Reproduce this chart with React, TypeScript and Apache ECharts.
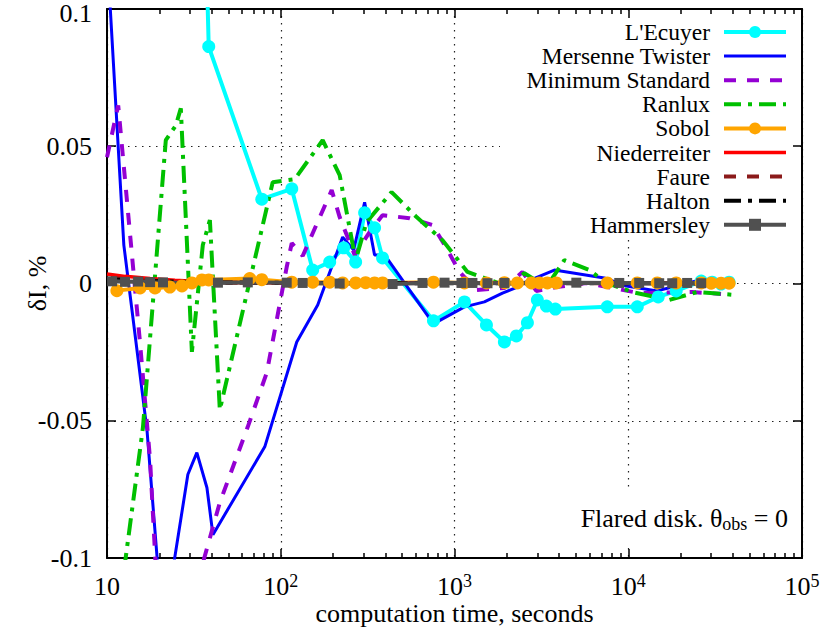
import React, { useEffect, useRef } from 'react';
import * as echarts from 'echarts';

const FONT = '"Liberation Serif", "Times New Roman", serif';

const seriesNames = ["L'Ecuyer", 'Mersenne Twister', 'Minimum Standard', 'Ranlux', 'Sobol', 'Niederreiter', 'Faure', 'Halton', 'Hammersley'];

const xTickValues = [10, 100, 1000, 10000, 100000];
const xMinorTickValues = [20, 30, 40, 50, 60, 70, 80, 90, 200, 300, 400, 500, 600, 700, 800, 900, 2000, 3000, 4000, 5000, 6000, 7000, 8000, 9000, 20000, 30000, 40000, 50000, 60000, 70000, 80000, 90000];
const yTickValues = [-0.1, -0.05, 0, 0.05, 0.1];

const lecuyerT = [30.8, 35.2, 38.5, 77.8, 115.7, 152.7, 191.3, 230.2, 269.8, 303.9, 346.7, 385.5, 757, 1141, 1527, 1937, 2270, 2628, 2999, 3379, 3805, 7573, 11270, 14870, 18880, 26300, 30400, 34200, 38050];
const lecuyerV = [0.25, 0.18, 0.0863, 0.0307, 0.0345, 0.0049, 0.0078, 0.013, 0.0078, 0.0258, 0.0203, 0.0093, -0.0136, -0.0067, -0.0151, -0.0213, -0.0191, -0.0143, -0.006, -0.0082, -0.0093, -0.0085, -0.0085, -0.0049, -0.0027, 0.0009, 0.0005, -0.0002, 0.0005];

const mersenneT = [10, 12.5, 17.0, 21.0, 29.2, 32.9, 37.6, 40.7, 80.9, 123.6, 163.2, 227.2, 262.8, 303.9, 346.7, 396, 757, 1141, 1486, 1888, 2301, 2559, 3758, 7278, 9743, 14690, 17910, 24600, 38050];
const mersenneV = [0.121, 0.014, -0.0536, -0.127, -0.0696, -0.0616, -0.0744, -0.0915, -0.0595, -0.0213, -0.0078, 0.0169, 0.0122, 0.0296, 0.0104, 0.0104, -0.0147, -0.0085, -0.0067, -0.0035, -0.0013, 0.0005, 0.0049, 0.002, -0.0009, -0.0027, -0.0013, 0.0009, 0.0002];

const minStdT = [10, 11.6, 15.5, 17.7, 21.0, 44.6, 64.6, 83.1, 108.2, 115.7, 133.7, 196.4, 218.3, 266.3, 324.6, 385.5, 551, 747, 899, 1069, 1337, 1937, 2459, 2958, 3855, 5741, 11560, 23330, 34200];
const minStdV = [0.046, 0.0649, -0.0218, -0.0642, -0.1536, -0.0798, -0.0522, -0.0325, 0.006, 0.0147, 0.010, 0.034, 0.0242, 0.0104, 0.0187, 0.0249, 0.0238, 0.0213, 0.0129, 0.0042, -0.0024, -0.0016, 0.0042, -0.0027, -0.0013, 0.0002, -0.0035, -0.0031, -0.0038];

const ranluxT = [11.1, 16.1, 21.8, 24.9, 26.6, 30.8, 35.6, 39.1, 44.6, 89.9, 120.3, 174.3, 218.3, 269.8, 312, 434.5, 605, 853, 1188, 2070, 2525, 3379, 4287, 5970, 7480, 10540, 17220, 24940, 41780];
const ranluxV = [-0.1296, -0.0525, 0.0522, 0.0576, 0.0638, -0.0249, 0.014, 0.0231, -0.046, 0.0369, 0.038, 0.0522, 0.0395, 0.0085, 0.0224, 0.0333, 0.0242, 0.0158, 0.0042, -0.0013, 0.0038, -0.0013, 0.0085, 0.0049, 0.0002, -0.0031, -0.006, -0.0031, -0.0042];

const sobolT = [11.4, 15.5, 18.9, 23.0, 27.0, 30.8, 35.2, 38.5, 66.3, 77.8, 115.7, 152.7, 191.3, 227.2, 269.8, 307.9, 346.7, 385.5, 757, 1141, 1527, 1937, 2301, 2770, 3081, 3421, 3855, 7573, 11270, 14690, 18880, 26300, 29990, 34200, 38050];
const sobolV = [-0.0026, -0.0016, -0.0016, -0.0013, -0.0009, 0.0002, 0.0013, 0.0013, 0.0018, 0.0014, 0.0005, 0.0005, 0.0005, 0.0002, 0.0002, 0.0003, 0.0002, 0.0002, 0.0005, 0.0002, 0.0002, 0.0003, 0.0002, 0.0002, 0.0002, 0.0002, 0.0002, 0.0002, 0.0002, 0.0002, 0.0002, 0.0002, 0.0001, 0.0001, 0.0001];

const niederT = [10, 12.7, 17.7, 24.6, 40.5, 68, 130, 250, 500, 1000, 2000, 4000, 8000, 16000, 30000, 38000];
const niederV = [0.0035, 0.0026, 0.0018, 0.0012, 0.0005, 0.0003, 0.0002, 0.0001, 0.0002, 0.0001, 0.0001, 0.0002, 0.0001, 0.0001, 0.0001, 0.0001];

const faureT = [10.5, 15, 25, 50, 100, 200, 400, 800, 1600, 3200, 6400, 12800, 25600, 38000];
const faureV = [0.002, 0.0012, 0.0006, 0.0003, 0.0002, 0.0001, 0.0002, 0.0001, 0.0001, 0.0, 0.0001, 0.0001, 0.0, 0.0001];

const haltonT = [10.5, 20, 50, 200, 800, 3000, 10000, 30000, 38000];
const haltonV = [0.0015, 0.0008, 0.0004, 0.0002, 0.0001, 0.0001, 0.0001, 0.0, 0.0];

const hammersleyT = [10.7, 12.7, 15.1, 17.7, 21.0, 43.5, 64.6, 108.2, 133.7, 218.3, 440.4, 654.6, 876.5, 1097, 1268, 1548, 1937, 5026, 8875, 11560, 15070, 17910, 21830, 26300];
const hammersleyV = [0.0008, 0.0006, 0.0007, 0.0005, 0.0004, 0.0003, 0.0004, 0.0003, 0.0002, 0.0, -0.0002, 0.0002, 0.0003, 0.0002, 0.0002, 0.0001, 0.0002, 0.0003, 0.0002, 0.0002, 0.0001, 0.0001, 0.0002, 0.0001];

const pairs = (t: number[], v: number[]) => t.map((x, i) => [x, v[i]]);

const seriesDefs = [
  { name: seriesNames[0], t: lecuyerT, v: lecuyerV, color: '#00ffff', width: 4, type: 'solid', symbol: 'circle', size: 13 },
  { name: seriesNames[1], t: mersenneT, v: mersenneV, color: '#0000ff', width: 3, type: 'solid', symbol: 'none', size: 0 },
  { name: seriesNames[2], t: minStdT, v: minStdV, color: '#9400d3', width: 4, type: [12, 11], symbol: 'none', size: 0 },
  { name: seriesNames[3], t: ranluxT, v: ranluxV, color: '#00c000', width: 4, type: [17, 7, 4, 7], symbol: 'none', size: 0 },
  { name: seriesNames[4], t: sobolT, v: sobolV, color: '#ffa500', width: 4, type: 'solid', symbol: 'circle', size: 13 },
  { name: seriesNames[5], t: niederT, v: niederV, color: '#ff0000', width: 3.5, type: 'solid', symbol: 'none', size: 0 },
  { name: seriesNames[6], t: faureT, v: faureV, color: '#8b1a1a', width: 4, type: [12, 11], symbol: 'none', size: 0 },
  { name: seriesNames[7], t: haltonT, v: haltonV, color: '#000000', width: 4, type: [17, 7, 4, 7], symbol: 'none', size: 0 },
  { name: seriesNames[8], t: hammersleyT, v: hammersleyV, color: '#505050', width: 4, type: 'solid', symbol: 'rect', size: 10 },
];

const tickLine = { color: '#000', width: 1.5 };
const dotted = { color: '#222', width: 1.2, type: [1.5, 5.5] };
const FS = 26;

const xFormatter = (v: number) => {
  const e = Math.round(Math.log10(v));
  return e === 1 ? '{b|10}' : `{b|10}{s|${e}}`;
};

const yFormatter = (v: number) => {
  const s = String(+v.toFixed(2));
  return v >= yTickValues[yTickValues.length - 1] - 1e-9 ? `{t|${s}}` : s;
};

export default function App() {
  const ref = useRef<HTMLDivElement>(null);
  useEffect(() => {
    if (!ref.current) return;
    const chart = echarts.init(ref.current, undefined, { renderer: 'svg' });
    const logMin = Math.log10(xTickValues[0]);
    const logMax = Math.log10(xTickValues[xTickValues.length - 1]);
    const baseX = { type: 'log', logBase: 10, min: xTickValues[0], max: xTickValues[xTickValues.length - 1], gridIndex: 0 };
    const tickX = { type: 'value', min: logMin, max: logMax, interval: 1, gridIndex: 0 };
    const minorLogs = xMinorTickValues.map((v) => Math.log10(v));
    const majorLogs = xTickValues.map((v) => Math.log10(v));
    const baseY = { type: 'value', min: yTickValues[0], max: yTickValues[yTickValues.length - 1], interval: 0.05, gridIndex: 0 };
    const option: any = {
      animation: false,
      backgroundColor: '#fff',
      grid: { left: 107, right: 28, top: 9, bottom: 81, containLabel: false, outerBoundsMode: 'none' },
      xAxis: [
        {
          ...baseX, position: 'bottom', z: 3,
          axisLine: { show: true, onZero: false, lineStyle: { color: '#000', width: 2 } },
          axisTick: { show: false },
          axisLabel: {
            show: true, margin: 14, formatter: xFormatter,
            rich: {
              b: { fontFamily: FONT, fontSize: FS, color: '#000', lineHeight: 28 },
              s: { fontFamily: FONT, fontSize: 18, color: '#000', lineHeight: 18, verticalAlign: 'top' },
            },
          },
          splitLine: { show: false },
          name: 'computation time, seconds', nameLocation: 'middle', nameGap: 42, nameMoveOverlap: false,
          nameTextStyle: { fontFamily: FONT, fontSize: FS, color: '#000' },
        },
        {
          ...tickX, position: 'bottom', z: 3,
          axisLine: { show: false, onZero: false },
          axisTick: { show: true, inside: true, length: 9, lineStyle: tickLine, customValues: majorLogs },
          axisLabel: { show: false },
          splitLine: { show: false },
        },
        {
          ...tickX, position: 'bottom', z: 3,
          axisLine: { show: false, onZero: false },
          axisTick: { show: true, inside: true, length: 5, lineStyle: tickLine, customValues: minorLogs },
          axisLabel: { show: false },
          splitLine: { show: false },
        },
        {
          ...tickX, position: 'top', z: 3,
          axisLine: { show: true, onZero: false, lineStyle: { color: '#000', width: 2 } },
          axisTick: { show: true, inside: true, length: 9, lineStyle: tickLine, customValues: majorLogs },
          axisLabel: { show: false },
          splitLine: { show: false },
        },
        {
          ...tickX, position: 'top', z: 3,
          axisLine: { show: false, onZero: false },
          axisTick: { show: true, inside: true, length: 5, lineStyle: tickLine, customValues: minorLogs },
          axisLabel: { show: false },
          splitLine: { show: false },
        },
        {
          ...tickX, position: 'bottom', z: 0,
          axisLine: { show: false, onZero: false },
          axisTick: { show: false },
          axisLabel: { show: false },
          splitLine: { show: true, lineStyle: dotted },
        },
      ],
      yAxis: [
        {
          ...baseY, position: 'left', z: 3,
          axisLine: { show: true, onZero: false, lineStyle: { color: '#000', width: 2 } },
          axisTick: { show: true, inside: true, length: 9, lineStyle: tickLine },
          axisLabel: {
            show: true, margin: 15, fontFamily: FONT, fontSize: FS, lineHeight: 18, color: '#000',
            formatter: yFormatter,
            rich: { t: { fontFamily: FONT, fontSize: FS, color: '#000', lineHeight: 18, padding: [8, 0, 0, 0] } },
          },
          splitLine: { show: false },
          name: 'δI, %', nameLocation: 'middle', nameGap: 57, nameMoveOverlap: false,
          nameTextStyle: { fontFamily: FONT, fontSize: FS, color: '#000' },
        },
        {
          ...baseY, position: 'right', z: 3,
          axisLine: { show: true, onZero: false, lineStyle: { color: '#000', width: 2 } },
          axisTick: { show: true, inside: true, length: 9, lineStyle: tickLine },
          axisLabel: { show: false },
          splitLine: { show: false },
        },
        {
          ...baseY, position: 'left', z: 0,
          axisLine: { show: false, onZero: false },
          axisTick: { show: false },
          axisLabel: { show: false },
          splitLine: { show: true, lineStyle: dotted },
        },
      ],
      legend: {
        show: true, orient: 'vertical', right: 42, top: 20, align: 'right', padding: 0,
        itemWidth: 62, itemHeight: 15, itemGap: 0.1, selectedMode: false,
        textStyle: { fontFamily: FONT, fontSize: 23.5, color: '#000', height: 23, lineHeight: 23, padding: [0, 9, 0, 0] },
        data: seriesDefs.map((d) => ({
          name: d.name,
          itemStyle: d.symbol === 'none' ? { opacity: 0 } : {},
          lineStyle: { width: d.width },
        })),
      },
      graphic: [
        { type: 'rect', z: 1, shape: { x: 500, y: 11, width: 298, height: 228 }, style: { fill: '#fff' } },
        { type: 'rect', z: 1, shape: { x: 560, y: 492, width: 238, height: 55 }, style: { fill: '#fff' } },
        {
          type: 'text', z: 5, x: 788, y: 503,
          style: {
            text: '{a|Flared disk. θ}{b|obs}{a| = 0}',
            align: 'right', verticalAlign: 'top',
            rich: {
              a: { fontFamily: FONT, fontSize: FS, fill: '#000', lineHeight: 30 },
              b: { fontFamily: FONT, fontSize: 18, fill: '#000', lineHeight: 18, verticalAlign: 'bottom' },
            },
          },
        },
      ],
      series: seriesDefs.map((d) => ({
        type: 'line',
        name: d.name,
        xAxisIndex: 0,
        yAxisIndex: 0,
        data: pairs(d.t, d.v),
        symbol: d.symbol,
        symbolSize: d.size,
        showSymbol: d.symbol !== 'none',
        clip: true,
        itemStyle: { color: d.color },
        lineStyle: { color: d.color, width: d.width, type: d.type },
        emphasis: { disabled: true },
      })),
    };
    chart.setOption(option);
    return () => chart.dispose();
  }, []);
  return <div ref={ref} style={{ position: 'absolute', left: 0, top: 0, width: 830, height: 639 }} />;
}
